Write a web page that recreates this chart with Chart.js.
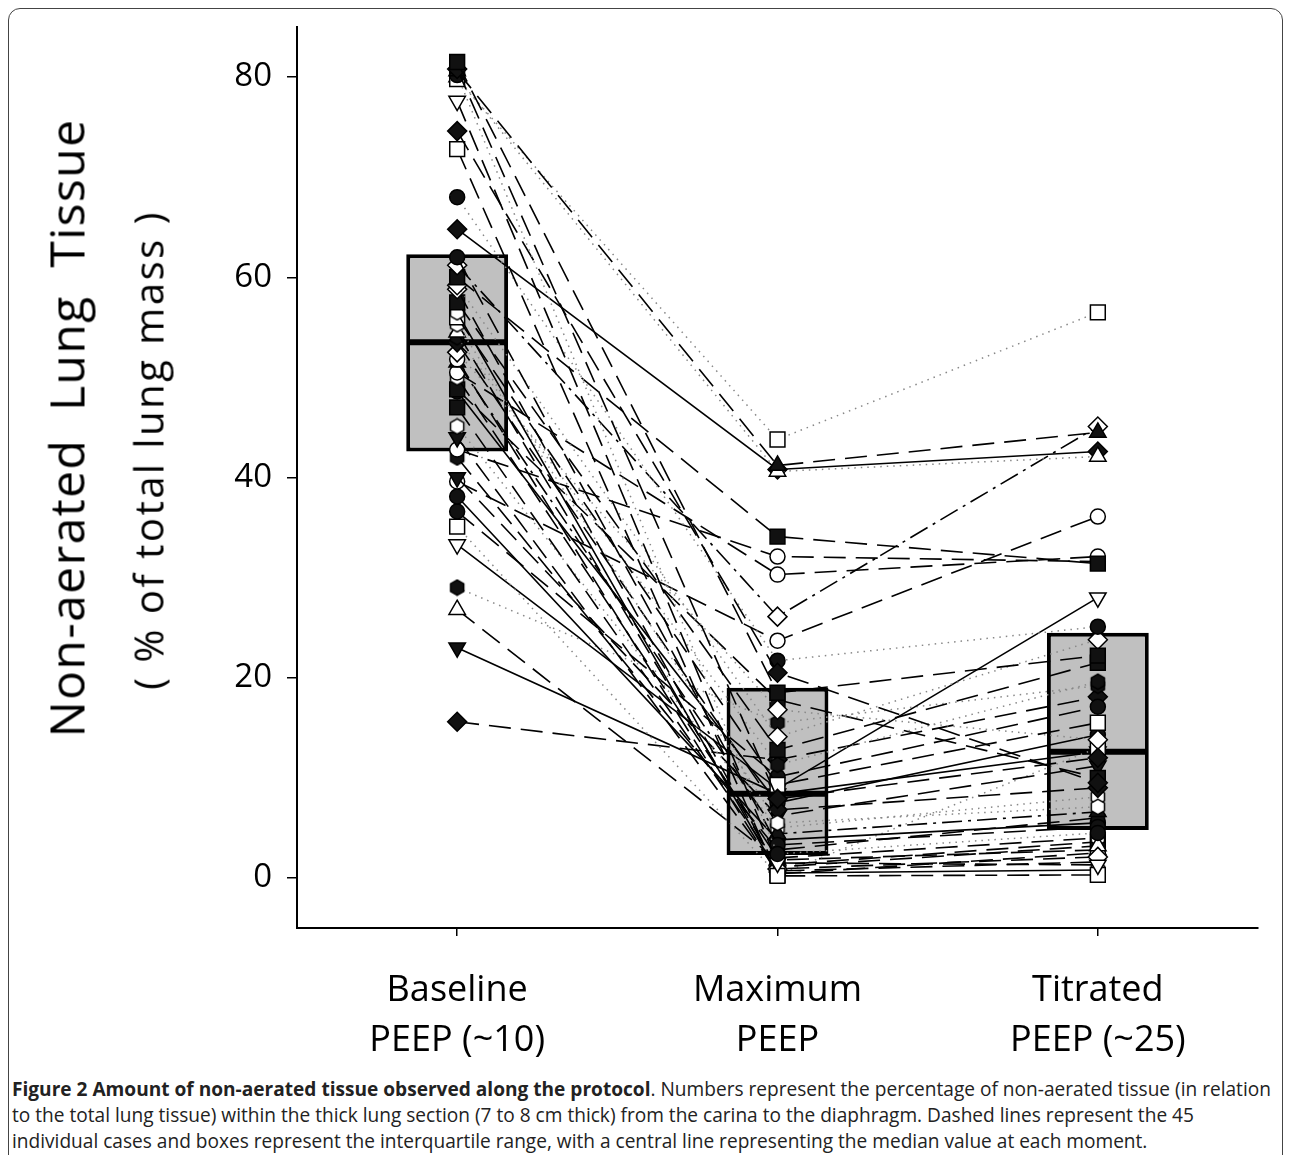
<!DOCTYPE html>
<html>
<head>
<meta charset="utf-8">
<script src="https://cdn.jsdelivr.net/npm/chart.js@4.4.1/dist/chart.umd.min.js"></script>
<style>
  body { margin: 0; background: #fff; font-family: "Open Sans", sans-serif; }
  #frame { position: absolute; left: 8px; top: 8px; width: 1273px; height: 1160px;
           border: 1.5px solid #444; border-radius: 12px; }
  #wrap { position: absolute; left: 0; top: 0; width: 1290px; height: 1075px; }
  .ytitle { position: absolute; white-space: pre; color: #000;
            transform: translate(-50%, -50%) rotate(-90deg); }
  #caption { position: absolute; left: 12px; top: 1076px; width: 1272px;
             font-size: 19.1px; line-height: 26px; color: #222; white-space: nowrap; }
</style>
</head>
<body>
<div id="frame"></div>
<div id="wrap"><canvas id="grafico"></canvas></div>
<div class="ytitle" style="left:66px; top:428px; font-size:48px; letter-spacing:1.4px;">Non-aerated  Lung  Tissue</div>
<div class="ytitle" style="left:148px; top:450px; font-size:40px; letter-spacing:2.5px;">( % of total lung mass )</div>
<div id="caption"><b>Figure 2 Amount of non-aerated tissue observed along the protocol</b>. Numbers represent the percentage of non-aerated tissue (in relation<br>to the total lung tissue) within the thick lung section (7 to 8 cm thick) from the carina to the diaphragm. Dashed lines represent the 45<br>individual cases and boxes represent the interquartile range, with a central line representing the median value at each moment.</div>

<script>
// Momentos del protocolo
const momentos = [["Baseline", "PEEP (~10)"], ["Maximum", "PEEP"], ["Titrated", "PEEP (~25)"]];
const yTicks = [0, 20, 40, 60, 80];

// Caja: cuartiles y mediana en cada momento
const boxQ1 = [42.6, 2.3, 4.8];
const boxQ3 = [62.3, 19.0, 24.5];
const boxMediana = [53.5, 8.4, 12.6];

// 45 casos individuales (% de tejido no aireado)
const baseline = [81.5, 80.8, 80.6, 80.2, 79.8, 80.0, 77.6, 74.6, 72.8, 68.0,
  64.8, 62.0, 61.2, 60.0, 59.2, 58.8, 57.5, 56.5, 56.0, 55.3,
  54.5, 54.0, 53.5, 52.5, 51.8, 51.5, 50.5, 50.0, 48.8, 48.6,
  47.0, 45.1, 44.0, 42.8, 42.0, 40.0, 39.6, 38.1, 36.6, 35.1,
  33.3, 29.0, 26.8, 23.0, 15.6];
const maximum = [18.5, 7.9, 41.2, 2.4, 43.8, 40.6, 1.5, 20.5, 0.2, 21.7,
  40.8, 3.3, 26.1, 34.1, 14.1, 0.9, 12.8, 0.5, 9.3, 5.5,
  1.1, 11.3, 6.8, 16.8, 0.4, 4.4, 30.3, 2.0, 17.8, 7.5,
  1.3, 5.0, 0.7, 32.1, 2.8, 6.2, 23.7, 3.8, 10.1, 0.3,
  8.9, 15.5, 1.8, 8.4, 11.8];
const titrated = [22.2, 12.0, 44.5, 4.5, 56.5, 42.1, 1.3, 9.5, 0.3, 25.1,
  42.6, 5.1, 45.1, 31.4, 23.8, 2.1, 21.5, 0.8, 15.5, 7.1,
  3.2, 19.6, 9.0, 13.8, 2.5, 6.6, 32.1, 4.0, 10.0, 14.3,
  3.6, 8.1, 1.6, 31.6, 6.0, 11.2, 36.1, 5.5, 17.1, 13.0,
  28.0, 19.2, 2.8, 12.6, 18.1];
// Marcador y tipo de línea de cada caso
const marcadores = ["sqF", "diaF", "triF", "circF", "sqO", "triO", "tdO", "diaF", "sqO", "circF",
  "diaF", "circF", "diaO", "sqF", "diaO", "diaO", "sqF", "hexO", "sqO", "hexO",
  "triO", "hexF", "diaF", "diaO", "circO", "triF", "circO", "hexO", "sqF", "circF",
  "sqF", "hexO", "tdF", "circO", "hexF", "tdF", "circO", "circF", "circF", "sqO",
  "tdO", "hexF", "triO", "tdF", "diaF"];
const lineas = ["dash", "dash", "dash", "dot", "dot", "dot", "dash", "dash", "dash", "dot",
  "solid", "dash", "dashdot", "dash", "dot", "dash", "dash", "solid", "dash", "dot",
  "dash", "dot", "dash", "dot", "dash", "dashdot", "dash", "dash", "dash", "solid",
  "dash", "dot", "dash", "dash", "dash", "dash", "dash", "solid", "dash", "dot",
  "solid", "dot", "dash", "solid", "dash"];

function hexagono(relleno) {
  const c = document.createElement("canvas");
  c.width = 18; c.height = 18;
  const g = c.getContext("2d");
  g.beginPath();
  for (let k = 0; k < 6; k++) {
    const a = Math.PI / 6 + k * Math.PI / 3;
    const px = 9 + 7.6 * Math.cos(a), py = 9 + 7.6 * Math.sin(a);
    k === 0 ? g.moveTo(px, py) : g.lineTo(px, py);
  }
  g.closePath();
  g.fillStyle = relleno ? "#111" : "#fff";
  g.fill();
  g.lineWidth = 1.5;
  g.strokeStyle = "#000";
  g.stroke();
  return c;
}
const hexF = hexagono(true), hexO = hexagono(false);

function estiloPunto(m) {
  const lleno = m.endsWith("F");
  const tipo = m.slice(0, -1);
  let r = { bg: lleno ? "#111" : "#fff", rot: 0 };
  if (tipo === "sq") { r.style = "rect"; r.radius = 10.5; }
  if (tipo === "circ") { r.style = "circle"; r.radius = 7.5; }
  if (tipo === "tri") { r.style = "triangle"; r.radius = 9.5; }
  if (tipo === "td") { r.style = "triangle"; r.radius = 9.5; r.rot = 180; }
  if (tipo === "dia") { r.style = "rectRot"; r.radius = 9.5; }
  if (tipo === "hex") { r.style = lleno ? hexF : hexO; r.radius = 9; }
  return r;
}

function estiloLinea(l) {
  if (l === "dash") return { dash: [22, 10], color: "#000", width: 1.6 };
  if (l === "dot") return { dash: [1.5, 5], color: "#888", width: 1.5 };
  if (l === "dashdot") return { dash: [20, 6, 3, 6], color: "#000", width: 1.6 };
  return { dash: [], color: "#000", width: 1.6 };
}

const datasets = [];
// Cajas (rango intercuartil)
datasets.push({
  type: "bar",
  data: boxQ1.map((q, i) => [q, boxQ3[i]]),
  backgroundColor: "#c0c0c0",
  borderColor: "#000",
  borderWidth: 4,
  borderSkipped: false,
  grouped: false,
  barPercentage: 0.318,
  categoryPercentage: 1,
  order: 3,
});
// Mediana
datasets.push({
  type: "bar",
  data: boxMediana.map((m) => [m - 0.3, m + 0.3]),
  backgroundColor: "#000",
  borderWidth: 0,
  grouped: false,
  barPercentage: 0.3,
  categoryPercentage: 1,
  order: 2,
});
// Casos individuales
for (let i = 0; i < baseline.length; i++) {
  const p = estiloPunto(marcadores[i]);
  const l = estiloLinea(lineas[i]);
  datasets.push({
    type: "line",
    data: [baseline[i], maximum[i], titrated[i]],
    borderColor: l.color,
    borderWidth: l.width,
    borderDash: l.dash,
    pointStyle: p.style,
    pointRadius: p.radius,
    pointRotation: p.rot,
    pointBackgroundColor: p.bg,
    pointBorderColor: "#000",
    pointBorderWidth: 1.5,
    tension: 0,
    fill: false,
    order: 1,
  });
}

const ctx = document.getElementById("grafico").getContext("2d");
const chart = new Chart(ctx, {
  type: "line",
  data: { labels: momentos, datasets: datasets },
  options: {
    responsive: true,
    maintainAspectRatio: false,
    animation: false,
    layout: { padding: { left: 0, right: 32, top: 27, bottom: 0 } },
    plugins: { legend: { display: false }, tooltip: { enabled: false } },
    scales: {
      x: {
        type: "category",
        offset: true,
        grid: { display: true, drawOnChartArea: false, offset: false, tickLength: 8, color: "#000", lineWidth: 1.5 },
        border: { display: true, color: "#000", width: 2 },
        ticks: {
          color: "#000",
          padding: 30,
          maxRotation: 0,
          font: { family: "Open Sans", size: 36, lineHeight: 1.39 },
        },
        afterFit: (s) => { s.height = 147; s.paddingLeft = 0; s.paddingRight = 0; },
      },
      y: {
        min: -5,
        max: 85,
        afterBuildTicks: (s) => { s.ticks = yTicks.map((v) => ({ value: v })); },
        grid: { display: true, drawOnChartArea: false, tickLength: 10, color: "#000", lineWidth: 1.5 },
        border: { display: true, color: "#000", width: 2 },
        ticks: {
          color: "#000",
          padding: 15,
          font: { family: "Open Sans", size: 33 },
        },
        afterFit: (s) => { s.width = 297; s.paddingTop = 0; s.paddingBottom = 0; },
      },
    },
  },
});
</script>
</body>
</html>
